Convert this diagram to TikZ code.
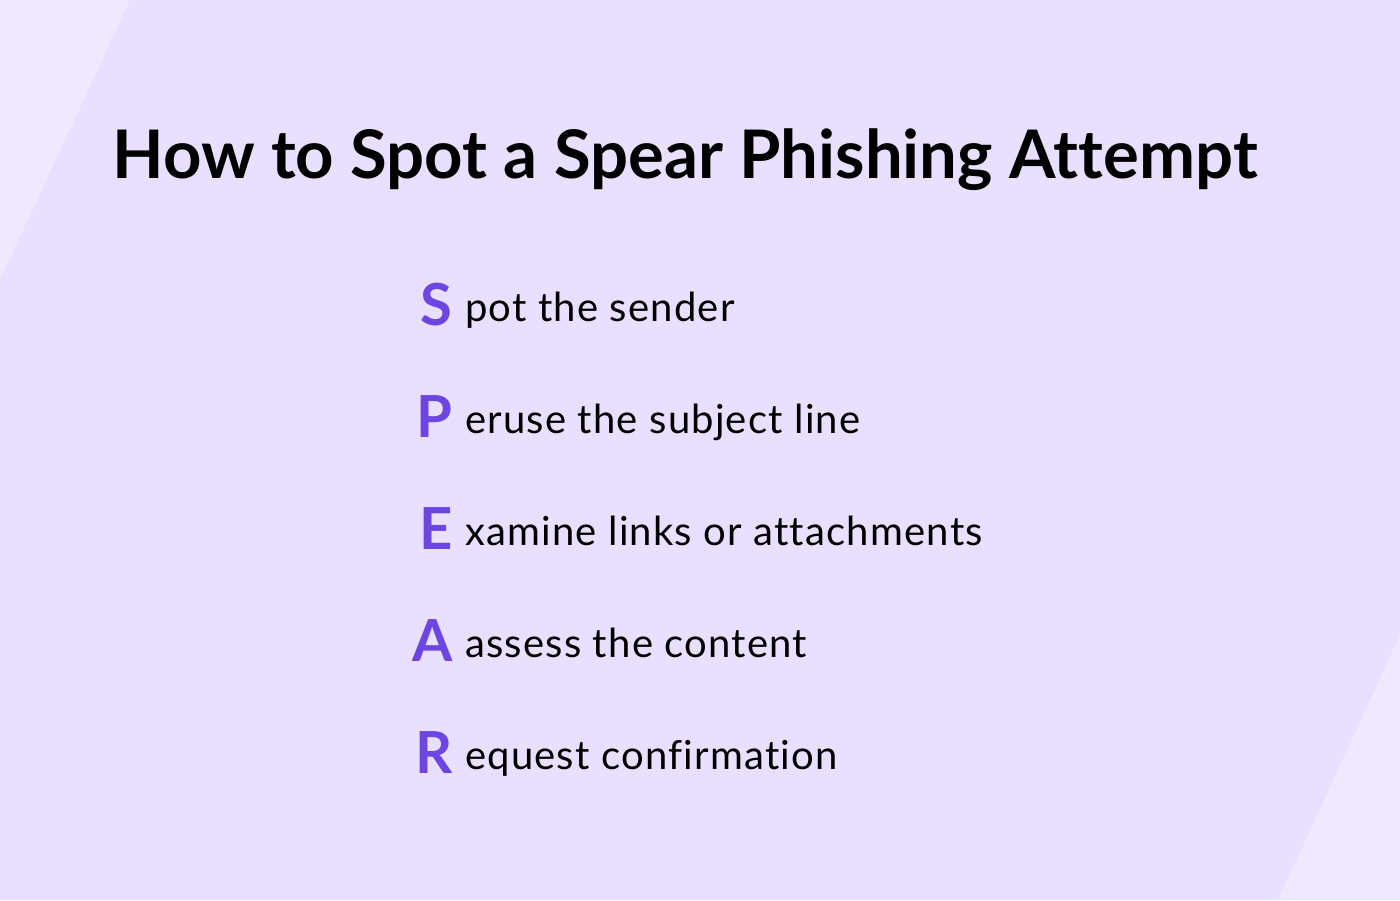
\documentclass[tikz,border=0pt]{standalone}
\usepackage{fontspec}
\setmainfont{Lato}[Ligatures={NoCommon,NoRequired,NoContextual}]
\definecolor{bg}{HTML}{E8E0FE}
\definecolor{bgl}{HTML}{EEE9FE}
\definecolor{acc}{HTML}{6B46E0}
\tikzset{letter/.style={anchor=base east,inner sep=0,text=acc,font=\fontsize{58}{60}\selectfont\bfseries},
item/.style={anchor=base west,inner sep=0,font=\fontsize{40}{42}\addfontfeature{LetterSpace=3}\selectfont}}
\begin{document}
\begin{tikzpicture}[x=1pt,y=-1pt]
\fill[bg] (0,0) rectangle (1400,900);
\fill[bgl] (0,0) -- (130,0) -- (0,280) -- cycle;
\fill[bgl] (1400,635) -- (1400,900) -- (1278,900) -- cycle;
\useasboundingbox (0,0) rectangle (1400,900);
\node[anchor=base,inner sep=0,font=\fontsize{67}{70}\selectfont\bfseries] (title) at (685,178) {How to Spot a Spear Phishing Attempt};
\foreach \L/\T/\y [count=\i] in {S/pot the sender/321,P/eruse the subject line/433,E/xamine links or attachments/545,A/assess the content/657,R/equest confirmation/769}{
 \node[letter] (l\i) at (453,\y+4) {\L};
 \node[item] (t\i) at (465,\y) {\T};
}
\end{tikzpicture}
\end{document}
